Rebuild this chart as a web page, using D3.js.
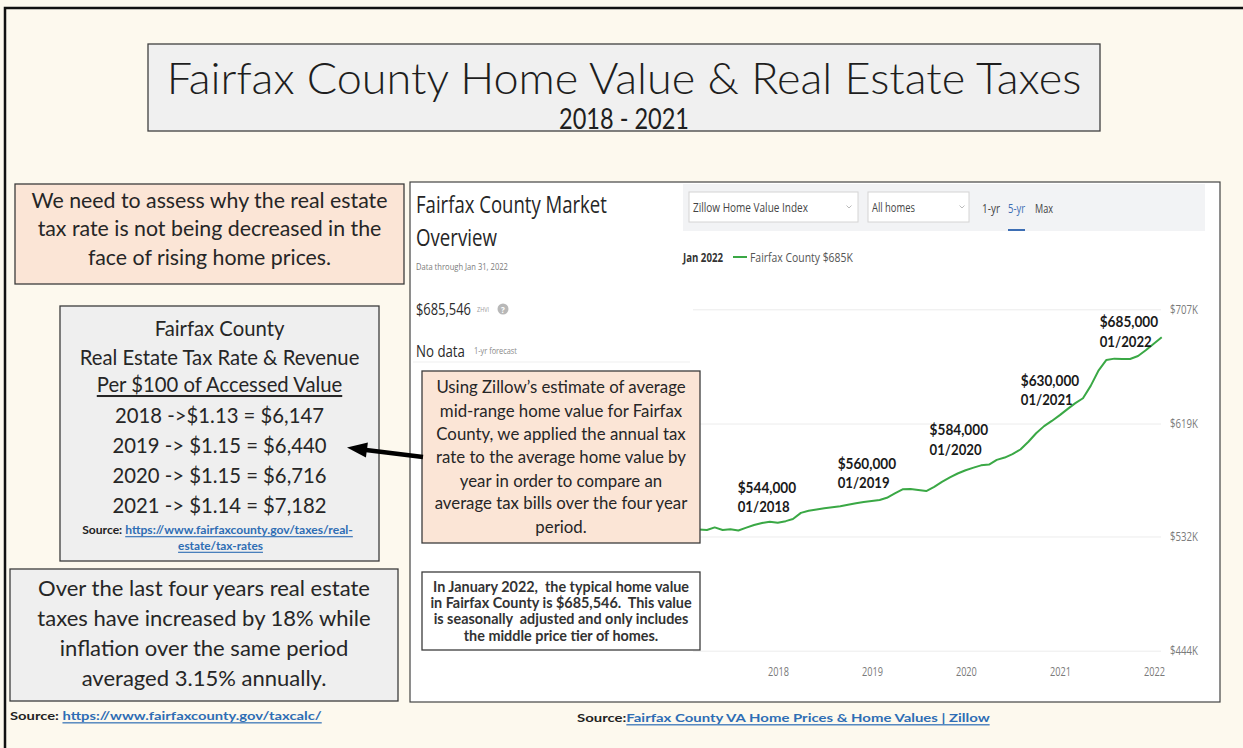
<!DOCTYPE html>
<html><head><meta charset="utf-8">
<script src="https://cdn.jsdelivr.net/npm/d3@7"></script>
<style>
html,body{margin:0;padding:0;background:#fdf9ee;}
svg{display:block;}
</style></head><body>
<svg id="c" width="1243" height="748"></svg>
<script>
// ---------------- data ----------------
const months = ["2017-02","2017-03","2017-04","2017-05","2017-06","2017-07","2017-08","2017-09","2017-10","2017-11","2017-12",
"2018-01","2018-02","2018-03","2018-04","2018-05","2018-06","2018-07","2018-08","2018-09","2018-10","2018-11","2018-12",
"2019-01","2019-02","2019-03","2019-04","2019-05","2019-06","2019-07","2019-08","2019-09","2019-10","2019-11","2019-12",
"2020-01","2020-02","2020-03","2020-04","2020-05","2020-06","2020-07","2020-08","2020-09","2020-10","2020-11","2020-12",
"2021-01","2021-02","2021-03","2021-04","2021-05","2021-06","2021-07","2021-08","2021-09","2021-10","2021-11","2021-12",
"2022-01"];
const homeValues = [537300,537000,539000,537000,537500,536600,538800,540800,542400,543400,542600,
543800,545500,550200,551800,552700,553700,554500,555200,556400,557600,558600,559400,
560100,561800,565200,568300,568600,567800,567000,570200,574000,577500,580500,583000,
585000,586800,587400,591000,592800,595500,599000,605000,611500,617000,621000,625500,
630300,634500,638500,648000,660000,668000,669000,668800,668700,671000,675500,680500,
685500];
const yTickValues = [444000, 532000, 619000, 707000];
const xTickYears = [2018, 2019, 2020, 2021, 2022];
const annotationValues = ["$544,000","$560,000","$584,000","$630,000","$685,000"];
const annotationMonths = ["2018-01","2019-01","2020-01","2021-01","2022-01"];
const taxYears = ["2018","2019","2020","2021"];
const taxRates = ["$1.13","$1.15","$1.15","$1.14"];
const taxBills = ["$6,147","$6,440","$6,716","$7,182"];

// ---------------- layout (not data) ----------------
const annOffsets = [[-48,-34],[-42,-37],[-44,-38],[-47,-29],[-62,-16]];

const svg = d3.select("#c");
svg.append("rect").attr("width",1243).attr("height",748).attr("fill","#fdf9ee");

const BODY = "Lato, 'Open Sans', sans-serif";
const ZF = "'Open Sans', 'Noto Sans', sans-serif";

function box(p,x,y,w,h,fill,stroke,sw){
  return p.append("rect").attr("x",x).attr("y",y).attr("width",w).attr("height",h)
    .attr("fill",fill).attr("stroke",stroke||"#3c3c3c").attr("stroke-width",sw||1.3);
}
// text helper: when o.w is given, the text is horizontally scaled (transform) to that width
function T(p,x,y,s,o={}){
  const g=p.append("g").attr("transform",`translate(${x},${y})`);
  const t=g.append("text").attr("x",0).attr("y",0)
    .attr("font-family",o.f||BODY).attr("font-size",o.s||14)
    .attr("font-weight",o.b||400).attr("fill",o.c||"#262626")
    .attr("text-anchor",o.a||"start").attr("dominant-baseline","central");
  if(o.u) t.attr("text-decoration","underline");
  t.text(s);
  t.fitW = w => { const L=t.node().getComputedTextLength(); g.attr("transform",`translate(${x},${y}) scale(${w/L},1)`); return t; };
  if(o.w) t.fitW(o.w);
  return t;
}
function fitGroup(nodes, refIdx, target){
  const w = nodes[refIdx].node().getComputedTextLength();
  const f = target / w;
  nodes.forEach(n=>{ n.attr("font-size", parseFloat(n.attr("font-size"))*f); });
}
function scaleTickText(sel, target){
  sel.each(function(){
    const L=this.getComputedTextLength(); const k=target/L;
    const x0=parseFloat(this.getAttribute("x"))||0;
    d3.select(this).attr("x",x0/k).attr("transform",`scale(${k},1)`);
  });
}

// outer frame
svg.append("path").attr("d","M5,748 V8 H1243").attr("fill","none").attr("stroke","#111").attr("stroke-width",2.5);

// ---------------- title ----------------
box(svg,148,44,952,87,"#f0f0f0","#404040",1.3);
T(svg,624,77,"Fairfax County Home Value & Real Estate Taxes",{s:43,b:300,a:"middle",c:"#1e1e1e",w:915});
T(svg,624,118,"2018 - 2021",{s:29,b:400,a:"middle",c:"#1e1e1e",w:130});

// ---------------- Zillow panel ----------------
const zp = svg.append("g");
box(zp,410,182,810,520,"#ffffff","#444",1.2);
T(zp,416,203,"Fairfax County Market",{f:ZF,s:24,c:"#262626",w:191});
T(zp,416,237,"Overview",{f:ZF,s:24,c:"#262626",w:81});
T(zp,416,267,"Data through Jan 31, 2022",{f:ZF,s:9.5,c:"#7a7a7a",w:92});
T(zp,416,308,"$685,546",{f:ZF,s:17,c:"#2b2b2b",w:55});
T(zp,477,309,"ZHVI",{f:ZF,s:8,c:"#9a9a9a",w:12});
zp.append("circle").attr("cx",503).attr("cy",309).attr("r",5.5).attr("fill","#b8b8b8");
T(zp,503,309.5,"?",{f:ZF,s:8,b:700,c:"#fff",a:"middle"});
T(zp,416,350,"No data",{f:ZF,s:17,c:"#2b2b2b",w:49});
T(zp,474,351,"1-yr forecast",{f:ZF,s:8.5,c:"#8a8a8a",w:43});
zp.append("line").attr("x1",413).attr("x2",690).attr("y1",362).attr("y2",362).attr("stroke","#efefef");

// control bar
zp.append("rect").attr("x",683).attr("y",184).attr("width",522).attr("height",47).attr("fill","#f2f3f5");
box(zp,689,192,169,30,"#fff","#d4d4d4",1);
box(zp,868,192,101,30,"#fff","#d4d4d4",1);
T(zp,693,207,"Zillow Home Value Index",{f:ZF,s:12,c:"#444",w:115});
T(zp,872,207,"All homes",{f:ZF,s:12,c:"#444",w:43});
[849,962].forEach(cx=>zp.append("path").attr("d",`M${cx-2.5},205.5 L${cx},208 L${cx+2.5},205.5`).attr("fill","none").attr("stroke","#bbb"));
T(zp,982,208,"1-yr",{f:ZF,s:12,c:"#444",w:18});
T(zp,1008,208,"5-yr",{f:ZF,s:12,c:"#3d6eb4",w:17});
T(zp,1035,208,"Max",{f:ZF,s:12,c:"#444",w:18});
zp.append("rect").attr("x",1008).attr("y",229).attr("width",17).attr("height",2).attr("fill","#3d6eb4");

// legend row
T(zp,683,257,"Jan 2022",{f:ZF,s:12,b:700,c:"#333",w:40});
zp.append("line").attr("x1",733).attr("x2",747).attr("y1",257).attr("y2",257).attr("stroke","#3aa845").attr("stroke-width",2);
T(zp,750,257,"Fairfax County $685K",{f:ZF,s:12,c:"#555",w:103});

// scales
const parseMonth = s => { const [yy,mm] = s.split("-").map(Number); return new Date(yy, mm, 0); };
const series = months.map((m,i)=>({date:parseMonth(m), value:homeValues[i]}));
const x = d3.scaleTime().domain([new Date(2018,0,1), new Date(2022,0,1)]).range([778,1154]);
const y = d3.scaleLinear().domain([444000,707000]).range([650.7,309.3]);

// y axis with gridlines
const yAxis = d3.axisRight(y).tickValues(yTickValues)
  .tickFormat(d=>"$"+Math.round(d/1000)+"K").tickSize(-(1161-693)).tickPadding(9);
const gy = zp.append("g").attr("transform","translate(1161,0)").call(yAxis);
gy.select(".domain").remove();
gy.selectAll(".tick line").attr("stroke","#ececec");
gy.selectAll(".tick text").attr("font-family",ZF).attr("font-size",12).attr("fill","#7a7a7a");
scaleTickText(gy.selectAll(".tick text"), 28);

// x axis
const xAxis = d3.axisBottom(x).tickValues(xTickYears.map(v=>new Date(v,0,1)))
  .tickFormat(d3.timeFormat("%Y")).tickSize(0).tickPadding(0);
const gx = zp.append("g").attr("transform","translate(0,672)").call(xAxis);
gx.select(".domain").remove();
gx.selectAll(".tick text").attr("y",0).attr("dy",null).attr("dominant-baseline","central")
  .attr("font-family",ZF).attr("font-size",12).attr("fill","#7a7a7a");
scaleTickText(gx.selectAll(".tick text"), 21);

// line
zp.append("path").datum(series).attr("fill","none").attr("stroke","#3aa845").attr("stroke-width",2)
  .attr("stroke-linejoin","round")
  .attr("d", d3.line().x(d=>x(d.date)).y(d=>y(d.value)));

// annotations
annotationMonths.forEach((m,i)=>{
  const idx = months.indexOf(m);
  const px = x(series[idx].date) + annOffsets[i][0];
  const py = y(series[idx].value) + annOffsets[i][1];
  T(zp,px,py,annotationValues[i],{s:15,b:700,c:"#1a1a1a",w:58.5});
  const mm = m.split("-");
  T(zp,px,py+19.5,mm[1]+"/"+mm[0],{s:15,b:700,c:"#1a1a1a",w:52});
});

// middle pink box
box(svg,422,371,278,172,"#fbe5d6","#3c3c3c",1.3);
const midLines = ["Using Zillow\u2019s estimate of average","mid-range home value for Fairfax",
 "County, we applied the annual tax","rate to the average home value by","year in order to compare an",
 "average tax bills over the four year","period."];
const midY = [386.7,410,433.3,456.7,480,502.7,526];
const midN = midLines.map((s,i)=>T(svg,561,midY[i],s,{s:18,a:"middle"}));
fitGroup(midN,5,253);

// In January box
box(svg,422,572,278,78,"#ffffff","#3c3c3c",1.3);
const janLines = ["In January 2022,  the typical home value","in Fairfax County is $685,546.  This value",
 "is seasonally  adjusted and only includes","the middle price tier of homes."];
const janY = [586.7,602.3,618.7,635];
const janN = janLines.map((s,i)=>T(svg,561,janY[i],s,{s:13,b:700,a:"middle",c:"#333"}).style("white-space","pre"));
fitGroup(janN,2,255);

// ---------------- left column ----------------
box(svg,15,184,389,100,"#fbe5d6","#3c3c3c",1.3);
const topLines = ["We need to assess why the real estate","tax rate is not being decreased in the","face of rising home prices."];
const topN = topLines.map((s,i)=>T(svg,209.5,[200,228.3,256.7][i],s,{s:22,a:"middle"}));
fitGroup(topN,0,356);

box(svg,60,306,319,255,"#efefef","#3c3c3c",1.3);
const taxHead = ["Fairfax County","Real Estate Tax Rate & Revenue","Per $100 of Accessed Value"];
const taxLines = taxYears.map((yr,i)=> i===0 ? `${yr} ->${taxRates[i]} = ${taxBills[i]}` : `${yr} -> ${taxRates[i]} = ${taxBills[i]}`);
const taxAll = taxHead.concat(taxLines);
const taxY = [328,357,384,415,445,475,505];
const taxN = taxAll.map((s,i)=>T(svg,219.5,taxY[i],s,{s:22,a:"middle",u:i===2}));
fitGroup(taxN,1,280);
const src1 = T(svg,217.5,529.5,"Source: ",{s:11,b:700,a:"middle",c:"#222"});
src1.append("tspan").attr("fill","#2e6db4").attr("text-decoration","underline").text("https://www.fairfaxcounty.gov/taxes/real-");
src1.fitW(271);
T(svg,220.5,545.5,"estate/tax-rates",{s:11,b:700,a:"middle",c:"#2e6db4",u:true,w:85});

// arrow
svg.append("line").attr("x1",423).attr("y1",457).attr("x2",364).attr("y2",449.8).attr("stroke","#000").attr("stroke-width",4.5);
svg.append("polygon").attr("points","347,447.5 365.9,457.5 367.9,442.5").attr("fill","#000");

box(svg,10,569,388,132,"#efefef","#3c3c3c",1.3);
const botLines = ["Over the last four years real estate","taxes have increased by 18% while","inflation over the same period","averaged 3.15% annually."];
const botN = botLines.map((s,i)=>T(svg,204,[587,617,647,677][i],s,{s:22,a:"middle"}));
fitGroup(botN,0,332);

// sources
const s2 = T(svg,10,716,"Source: ",{s:12,b:700,c:"#222"});
s2.append("tspan").attr("fill","#2e6db4").attr("text-decoration","underline").text("https://www.fairfaxcounty.gov/taxcalc/");
s2.fitW(312);
const s3 = T(svg,577,718,"Source:",{s:12,b:700,c:"#222"});
s3.append("tspan").attr("fill","#2e6db4").attr("text-decoration","underline").text("Fairfax County VA Home Prices & Home Values | Zillow");
s3.fitW(413);
</script>
</body></html>
